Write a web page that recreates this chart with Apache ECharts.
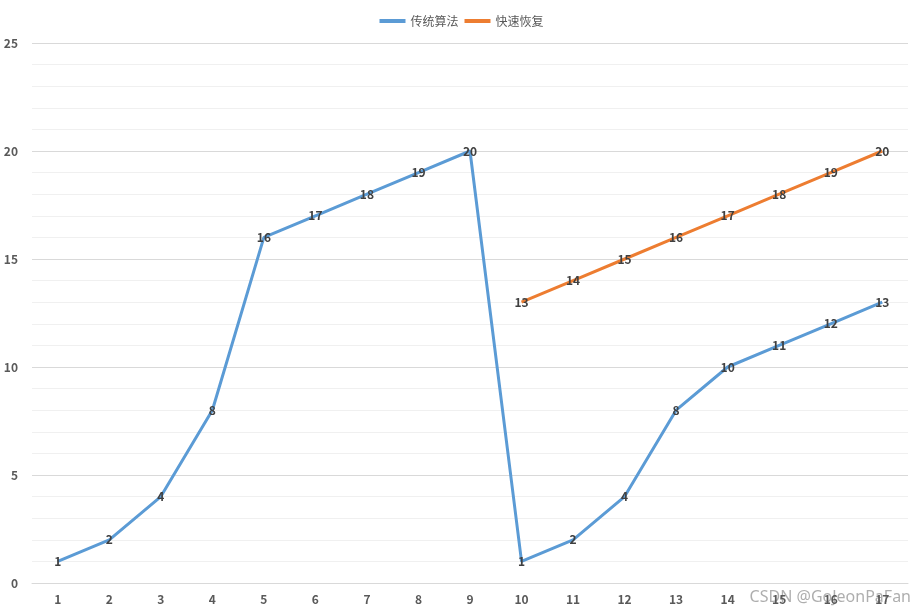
<!DOCTYPE html>
<html>
<head>
<meta charset="utf-8">
<script src="https://cdn.jsdelivr.net/npm/echarts@6/dist/echarts.min.js"></script>
<style>html,body{margin:0;padding:0;background:#fff}#main{width:923px;height:613px}</style>
</head>
<body>
<div id="main"></div>
<script>
const categories = ['1','2','3','4','5','6','7','8','9','10','11','12','13','14','15','16','17'];
const traditional = [1, 2, 4, 8, 16, 17, 18, 19, 20, 1, 2, 4, 8, 10, 11, 12, 13];
const fastRecovery = ['-', '-', '-', '-', '-', '-', '-', '-', '-', 13, 14, 15, 16, 17, 18, 19, 20];

const chart = echarts.init(document.getElementById('main'));
const labelStyle = { show: true, position: 'inside', color: '#404040', fontWeight: 'bold', fontSize: 12 };
chart.setOption({
  textStyle: { fontFamily: 'Noto Sans CJK SC' },
  legend: {
    top: 10, left: 'center', itemWidth: 26, itemHeight: 4, itemGap: 6,
    icon: 'rect', textStyle: { color: '#595959', fontSize: 12 },
    data: ['传统算法', '快速恢复']
  },
  grid: { left: 32, right: 15, top: 43, bottom: 30 },
  xAxis: {
    type: 'category', data: categories, boundaryGap: true,
    axisLine: { lineStyle: { color: '#d9d9d9' } },
    axisTick: { show: false },
    axisLabel: { color: '#595959', fontWeight: 'bold', fontSize: 12, margin: 10 }
  },
  yAxis: {
    type: 'value', min: 0, max: 25, interval: 5,
    axisLine: { show: false }, axisTick: { show: false },
    axisLabel: { color: '#595959', fontWeight: 'bold', fontSize: 12, margin: 14 },
    splitLine: { lineStyle: { color: '#d9d9d9' } },
    minorTick: { show: false, splitNumber: 5 },
    minorSplitLine: { show: true, lineStyle: { color: '#f0f0f0' } }
  },
  series: [
    { name: '传统算法', type: 'line', data: traditional, symbol: 'circle', symbolSize: 0.01,
      lineStyle: { width: 3, color: '#5b9bd5' }, itemStyle: { color: '#5b9bd5' }, label: labelStyle },
    { name: '快速恢复', type: 'line', data: fastRecovery, symbol: 'circle', symbolSize: 0.01,
      lineStyle: { width: 3, color: '#ed7d31' }, itemStyle: { color: '#ed7d31' }, label: labelStyle }
  ],
  graphic: [{
    type: 'text', right: 12, bottom: 8,
    style: { text: 'CSDN @GoJeonPaFan', fill: 'rgba(120,120,120,0.6)', font: '16px "Noto Sans"' }
  }]
});
</script>
</body>
</html>
